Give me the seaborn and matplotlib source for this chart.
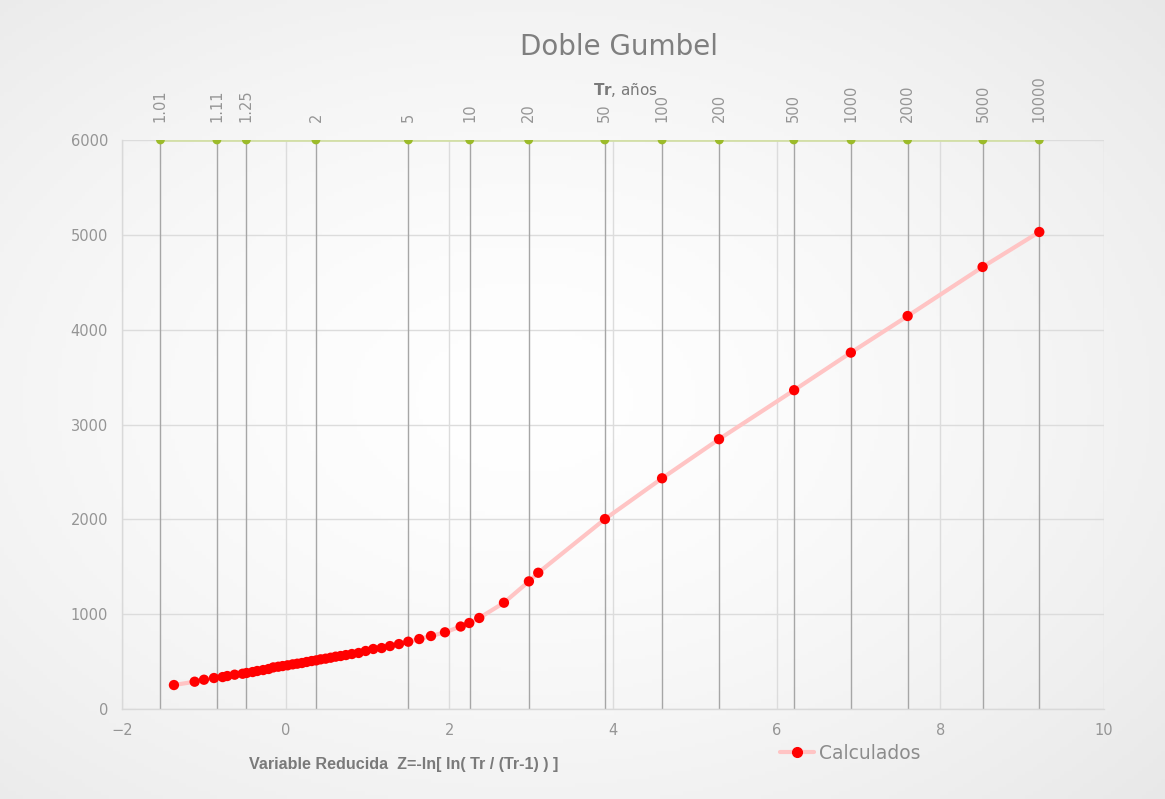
import numpy as np
import pandas as pd
import matplotlib
matplotlib.use("Agg")
import matplotlib.pyplot as plt
from matplotlib.lines import Line2D
import seaborn as sns

# ---- data ----
z_calc = [-1.365, -1.112, -0.998, -0.876, -0.770, -0.713, -0.623, -0.526, -0.477, -0.403,
          -0.347, -0.274, -0.208, -0.151, -0.090, -0.037, 0.024, 0.086, 0.142, 0.199,
          0.257, 0.318, 0.374, 0.428, 0.489, 0.550, 0.611, 0.672, 0.737, 0.810,
          0.892, 0.978, 1.071, 1.173, 1.275, 1.385, 1.498, 1.633, 1.776, 1.947,
          2.139, 2.244, 2.366, 2.668, 2.973, 3.087, 3.902, 4.600, 5.296, 6.214,
          6.907, 7.601, 8.517, 9.210]
q_calc = [253, 288, 309, 327, 337, 348, 362, 372, 380, 390,
          401, 411, 422, 439, 446, 453, 461, 471, 478, 485,
          496, 506, 513, 524, 531, 541, 552, 559, 569, 580,
          591, 612, 633, 643, 664, 685, 710, 738, 770, 809,
          870, 907, 960, 1121, 1346, 1437, 2003, 2433, 2845, 3362,
          3758, 4144, 4661, 5030]

tr_labels = ["1.01", "1.11", "1.25", "2", "5", "10", "20", "50", "100", "200",
             "500", "1000", "2000", "5000", "10000"]
tr_z = [-1.53, -0.84, -0.48, 0.37, 1.50, 2.25, 2.97, 3.90, 4.60, 5.30,
        6.21, 6.91, 7.60, 8.52, 9.21]
tr_top = [6000] * len(tr_z)

x_ticks = [-2, 0, 2, 4, 6, 8, 10]
y_ticks = [0, 1000, 2000, 3000, 4000, 5000, 6000]

df_calc = pd.DataFrame({"z": z_calc, "q": q_calc})
df_tr = pd.DataFrame({"z": tr_z, "q": tr_top})

sns.set_theme(style="white")
plt.rcParams["font.family"] = ["DejaVu Sans"]

fig = plt.figure(figsize=(11.65, 7.99), dpi=100)

# background radial gradient
bg = fig.add_axes([0, 0, 1, 1], zorder=-10)
yy, xx = np.mgrid[0:1:200j, 0:1:300j]
r = np.sqrt(((xx - 0.45) / 0.75) ** 2 + ((yy - 0.5) / 0.75) ** 2)
img = 1.0 - 0.09 * np.clip(r, 0, 1) ** 1.5
bg.imshow(np.dstack([img, img, img]), aspect="auto", extent=[0, 1, 0, 1], origin="lower")
bg.set_axis_off()

ax = fig.add_axes([0.1047, 0.1126, 0.8429, 0.7122])
ax.set_facecolor("none")

# grid
for x in x_ticks:
    ax.axvline(x, color="#dcdcdc", lw=1, zorder=0)
for y in y_ticks:
    ax.axhline(y, color="#dcdcdc", lw=1, zorder=0)

# Tr vertical lines
ax.vlines(tr_z, 0, 6000, color="#a6a6a6", lw=1, zorder=1)

# green top series
sns.lineplot(data=df_tr, x="z", y="q", ax=ax, color="#d3dfa8", lw=2, zorder=2, legend=False)
sns.scatterplot(data=df_tr, x="z", y="q", ax=ax, color="#9cbb2a", s=40, edgecolor="none",
                zorder=3, legend=False)

# calculated series
sns.lineplot(data=df_calc, x="z", y="q", ax=ax, color="#ffc4c4", lw=3, zorder=4,
             legend=False, sort=False)
sns.scatterplot(data=df_calc, x="z", y="q", ax=ax, color="#ff0000", s=55, edgecolor="none",
                zorder=5, legend=False)

for z, lab in zip(tr_z, tr_labels):
    ax.annotate(lab, (z, 6000), xytext=(0, 13), textcoords="offset points",
                rotation=90, ha="center", va="bottom", color="#959595", fontsize=10.5)

ax.set_xlim(-2, 10)
ax.set_ylim(0, 6000)
ax.set_xticks(x_ticks)
ax.set_yticks(y_ticks)
ax.tick_params(axis="both", colors="#959595", labelsize=10.5, length=0, pad=10)
ax.set_xlabel("")
ax.set_ylabel("")
for side in ["top", "right"]:
    ax.spines[side].set_visible(False)
for side in ["left", "bottom"]:
    ax.spines[side].set_color("#d9d9d9")
    ax.spines[side].set_linewidth(1)

fig.text(0.531, 0.941, "Doble Gumbel", ha="center", va="center", fontsize=20,
         color="#7f7f7f")
fig.text(0.537, 0.887, r"$\bf{Tr}$, años", ha="center", va="center", fontsize=11,
         color="#7a7a7a")
fig.text(0.2137, 0.0426, "Variable Reducida  Z=-ln[ ln( Tr / (Tr-1) ) ]", ha="left",
         va="center", fontsize=11.6, color="#7a7a7a", fontweight="bold",
         family=["Liberation Sans", "DejaVu Sans"])

handle = Line2D([0], [0], color="#ffc4c4", lw=3, marker="o", markersize=7,
                markerfacecolor="#ff0000", markeredgecolor="#ff0000")
fig.legend([handle], ["Calculados"], loc="center left", bbox_to_anchor=(0.655, 0.057),
           frameon=False, fontsize=13.5, labelcolor="#8c8c8c", handlelength=1.8,
           handletextpad=0.3)

fig.savefig("out.png", dpi=100)
